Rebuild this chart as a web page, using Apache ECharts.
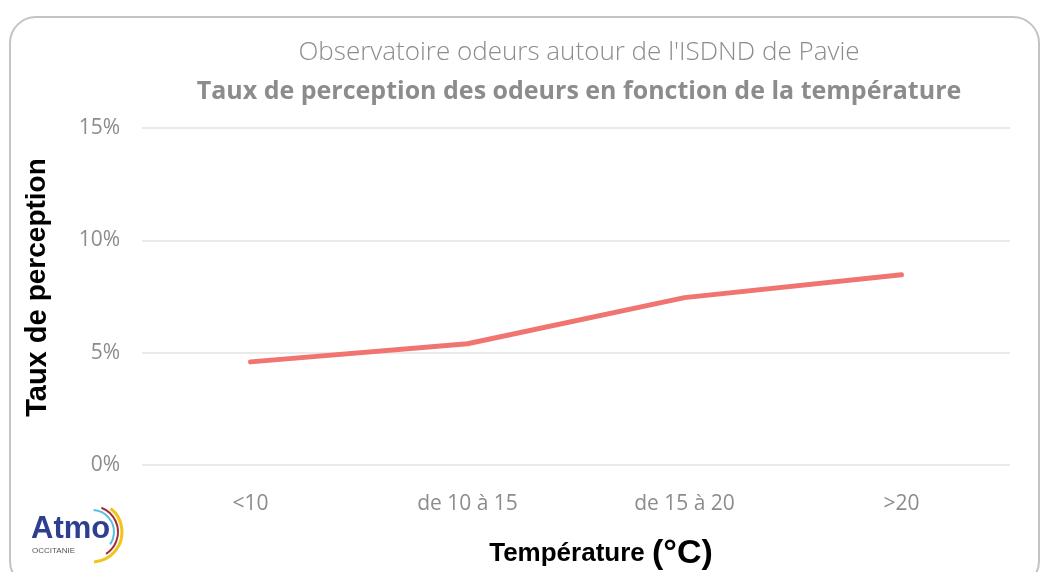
<!DOCTYPE html>
<html>
<head>
<meta charset="utf-8">
<script src="https://cdn.jsdelivr.net/npm/echarts@6/dist/echarts.min.js"></script>
<style>
  html, body { margin: 0; padding: 0; background: #fff; }
  #chart { width: 1041px; height: 572px; }
</style>
</head>
<body>
<div id="chart"></div>
<script>
// data
const categories = ['<10', 'de 10 à 15', 'de 15 à 20', '>20'];
const perceptionRate = [4.59, 5.4, 7.45, 8.47];
const yTicks = [0, 5, 10, 15];

const chart = echarts.init(document.getElementById('chart'));

const option = {
  animation: false,
  backgroundColor: '#fff',
  title: [
    {
      text: "Observatoire odeurs autour de l'ISDND de Pavie",
      left: 574,
      textAlign: 'center',
      top: 35,
      textStyle: { fontFamily: 'Open Sans', fontWeight: 300, fontSize: 26, color: '#8c8c8c' }
    },
    {
      text: 'Taux de perception des odeurs en fonction de la température',
      top: 74,
      left: 574,
      textAlign: 'center',
      textStyle: { fontFamily: 'Open Sans', fontWeight: 'bold', fontSize: 25, color: '#8c8c8c' }
    }
  ],
  grid: { left: 142, right: 31, top: 128, bottom: 107, outerBoundsMode: 'none' },
  xAxis: {
    type: 'category',
    data: categories,
    axisLine: { show: false },
    axisTick: { show: false },
    axisLabel: { fontFamily: 'Open Sans', fontSize: 21, color: '#8c8c8c', margin: 29 },
    name: '{a|Température }{b|(°C)}',
    nameLocation: 'middle',
    nameGap: 72,
    nameTextStyle: {
      padding: [0, 0, 0, 50],
      rich: {
        a: { fontFamily: 'Liberation Sans', fontWeight: 'bold', fontSize: 26, color: '#000' },
        b: { fontFamily: 'Liberation Sans', fontWeight: 'bold', fontSize: 34, color: '#000' }
      }
    }
  },
  yAxis: {
    type: 'value',
    min: yTicks[0],
    max: yTicks[yTicks.length - 1],
    interval: 5,
    axisLabel: {
      formatter: '{value}%',
      fontFamily: 'Open Sans',
      fontSize: 21,
      color: '#8c8c8c',
      margin: 22
    },
    splitLine: { lineStyle: { color: '#e3e3e3', width: 1.5 } },
    name: '{a|Taux de }{b|perception}',
    nameLocation: 'middle',
    nameGap: 90,
    nameTextStyle: {
      padding: [0, 0, 0, 18],
      rich: {
        a: { fontFamily: 'Liberation Sans', fontWeight: 'bold', fontSize: 29, color: '#000' },
        b: { fontFamily: 'Liberation Sans', fontWeight: 'bold', fontSize: 28, color: '#000' }
      }
    }
  },
  series: [
    {
      type: 'line',
      data: perceptionRate,
      symbol: 'none',
      lineStyle: { color: '#f07470', width: 5, cap: 'round', join: 'round' }
    }
  ],
  graphic: [
    {
      type: 'rect',
      shape: { x: 10, y: 17, width: 1029, height: 570, r: 26 },
      style: { fill: 'none', stroke: '#c4c4c4', lineWidth: 2 },
      z: -1
    },
    // logo
    {
      type: 'text',
      left: 31,
      top: 514,
      style: { text: 'Atmo', font: 'bold 31px "Liberation Sans Narrow", "Liberation Sans"', fill: '#2f3f8f' }
    },
    {
      type: 'text',
      left: 32,
      top: 547,
      style: { text: 'OCCITANIE', font: '8px "Liberation Sans"', fill: '#555' }
    },
    {
      type: 'arc',
      shape: { cx: 92, cy: 532, r: 22, startAngle: -1.5, endAngle: 0.6 },
      style: { stroke: '#5bc0de', lineWidth: 2, fill: 'none' }
    },
    {
      type: 'arc',
      shape: { cx: 92, cy: 532, r: 26, startAngle: -1.2, endAngle: 1.0 },
      style: { stroke: '#a52a3a', lineWidth: 2, fill: 'none' }
    },
    {
      type: 'arc',
      shape: { cx: 92, cy: 532, r: 30, startAngle: -0.9, endAngle: 1.5 },
      style: { stroke: '#f0c419', lineWidth: 3, fill: 'none' }
    }
  ]
};

chart.setOption(option);
</script>
</body>
</html>
